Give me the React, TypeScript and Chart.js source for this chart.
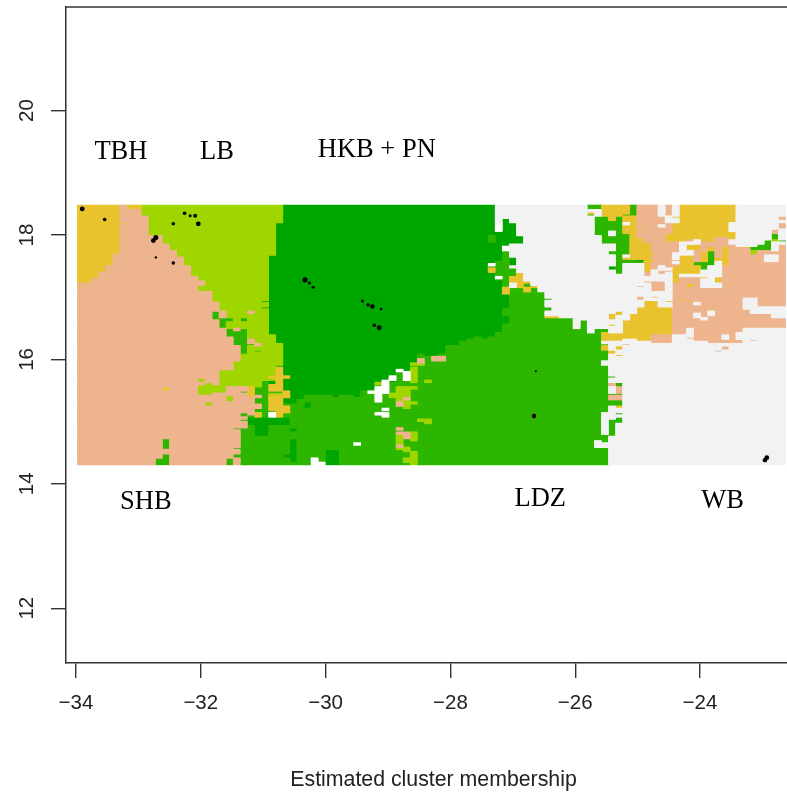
import React, { useEffect, useRef } from "react";
import { Chart, registerables } from "chart.js";

Chart.register(...registerables);

// ---- axes ----
const xTickValues = [-34, -32, -30, -28, -26, -24];
const yTickValues = [12, 14, 16, 18, 20];
const xLimits = [-34.16, -22.606];
const yLimits = [11.119, 21.666];

// ---- raster grid (longitude / latitude of the cells) ----
const gridCols = 100;
const gridRows = 120;
const gridLonStart = -33.976;
const gridLonStep = 0.11346;
const gridLatStart = 18.4775;
const gridLatStep = 0.03473;

// ---- cluster palette ----
const clusterColors: Record<string, string> = {
  W: "#F2F2F2",
  X: "#FFFFFF",
  L: "#A0D600",
  P: "#EDB48E",
  Y: "#E8C32E",
  M: "#2DB600",
  G: "#00A600",
};

type Patch = [string, number, number, number, number]; // cluster, col from, col to, row from, row to

const westPatches: Patch[] = [
  ["L", 9, 30, 0, 88],
  ["P", 0, 9, 0, 5], ["P", 0, 10, 5, 14], ["P", 0, 12, 14, 18], ["P", 0, 13, 18, 21],
  ["P", 0, 14, 21, 24], ["P", 0, 15, 24, 28], ["P", 0, 16, 28, 33], ["P", 0, 17, 33, 40],
  ["P", 17, 18, 35, 37], ["P", 0, 19, 40, 45], ["P", 0, 20, 45, 57], ["P", 0, 21, 57, 60],
  ["P", 0, 22, 60, 65], ["P", 0, 23, 65, 72], ["P", 0, 22, 72, 76], ["P", 0, 20, 76, 83],
  ["P", 0, 17, 83, 88], ["P", 21, 24, 84, 88], ["P", 19, 21, 87, 88], ["P", 0, 24, 88, 103],
  ["P", 0, 23, 103, 120],
  ["Y", 0, 6, 0, 22.5], ["Y", 0, 5, 22.5, 27.6], ["Y", 0, 4, 27.6, 31], ["Y", 0, 3, 31, 34],
  ["Y", 0, 2, 34, 36], ["Y", 0, 1, 37, 38], ["Y", 7, 9, 0, 2], ["Y", 6, 7, 7.5, 8.5],
  ["Y", 12, 13, 84, 85.5],
  ["M", 19, 20, 48.5, 52.5], ["P", 20, 21, 48.5, 52], ["M", 21, 22, 52, 53.5], ["M", 23, 24, 52, 53.5],
  ["P", 24, 25, 48.5, 50], ["G", 26, 27, 44, 45], ["G", 26, 27, 47, 48], ["M", 20, 21, 52, 57],
  ["M", 21, 24, 57, 60], ["P", 22, 23, 56.5, 57.5],
  ["M", 21, 22, 60, 61], ["M", 22, 24, 60, 65.4], ["M", 23, 24, 65.4, 69], ["P", 24, 25, 62, 64],
  ["M", 24, 25, 64, 65.4], ["P", 25, 26, 64, 65.4], ["M", 25, 26, 66.6, 68], ["P", 22, 23, 70, 71],
  ["L", 17, 18, 80, 82.4], ["L", 18, 19, 82.4, 84], ["L", 17, 19, 83, 88], ["L", 19, 21, 84, 87],
  ["L", 21, 22, 88, 91], ["L", 18, 19, 90.5, 92.7], ["M", 23, 24, 85.5, 87],
  ["M", 12, 13, 108, 113], ["M", 12, 13, 114.5, 120], ["M", 11, 13, 117, 120],
];

const northCentrePatches: Patch[] = [
  ["M", 24, 31, 88, 103], ["M", 23, 31, 103, 120],
  ["M", 31, 74, 60, 64], ["M", 31, 75, 64, 72], ["M", 31, 74, 72, 74], ["M", 31, 75, 74, 96],
  ["M", 31, 74, 96, 106], ["M", 31, 75, 106, 109], ["M", 31, 73, 109, 112], ["M", 31, 75, 112, 120],
  ["G", 29, 59, 0, 8], ["G", 28, 59, 8, 23], ["G", 27, 59, 23, 60],
  ["G", 28, 29, 60, 64], ["G", 28, 29, 74, 75],
  ["G", 29, 32, 60, 90.4], ["G", 32, 36, 60, 88], ["G", 36, 37, 60, 89], ["G", 37, 39, 60, 88],
  ["G", 39, 40, 60, 89], ["G", 40, 42, 60, 85.5], ["G", 42, 43, 60, 82.4], ["G", 43, 44, 60, 81],
  ["G", 44, 45, 60, 82], ["G", 45, 47, 60, 77], ["G", 47, 48, 60, 72.5], ["G", 48, 49, 60, 69],
  ["G", 49, 51, 60, 70.3], ["G", 51, 52, 60, 68.5], ["G", 52, 54, 60, 65.4], ["G", 54, 55, 60, 63.4],
  ["G", 55, 56, 60, 62], ["G", 56, 57, 60, 60.5], ["G", 57, 58, 60, 61.5], ["G", 58, 59, 60, 60.5],
  ["M", 58, 59, 14, 16.7],
];

const junctionPatches: Patch[] = [
  ["M", 25, 27, 84, 88], ["G", 27, 30, 85.5, 87], ["M", 26, 27, 81, 83], ["G", 27, 28, 81, 83],
  ["Y", 24, 25, 84, 89], ["P", 25, 26, 88, 89], ["P", 24, 25, 89, 97], ["M", 25, 27, 89, 92],
  ["P", 25, 26, 92, 94], ["M", 25, 27, 94, 96], ["M", 26, 27, 83, 100], ["Y", 25, 26, 96.4, 97.5],
  ["Y", 27, 29, 87.5, 95], ["Y", 29, 30, 85.8, 89], ["G", 29, 31, 89, 92.4], ["Y", 29, 30, 92.7, 96],
  ["Y", 28, 29, 95, 99.8], ["X", 27, 28, 96.4, 97.5], ["Y", 29, 30, 97.8, 99], ["Y", 27, 30, 78.8, 80],
  ["Y", 28, 29, 75, 85], ["Y", 27, 29, 83, 85.5],
  ["G", 24, 30, 98, 102.4], ["G", 25, 27, 102, 107], ["G", 30, 31, 103, 105], ["G", 30, 31, 107.5, 119.4],
  ["G", 29, 30, 114.5, 116.6], ["M", 23, 24, 96, 97.5], ["M", 23, 24, 98.6, 100], ["M", 22, 23, 102.5, 103.2],
  ["M", 22, 23, 111.7, 113], ["M", 22, 23, 115, 117], ["M", 21, 22, 116.6, 120], ["P", 22, 23, 118, 119],
];

const lowerCentrePatches: Patch[] = [
  ["X", 42, 43, 84, 90.5], ["X", 43, 44, 81, 87], ["X", 44, 45, 79, 80.5], ["X", 45, 46, 76, 77],
  ["X", 46, 47, 77, 80.7], ["X", 41, 42, 85.5, 87], ["X", 43, 44, 94.3, 95.3], ["X", 42, 43, 95.5, 96],
  ["X", 43, 44, 96.4, 97.5], ["X", 39, 40, 110, 111], ["X", 33, 34, 116.6, 120], ["X", 34, 35, 119, 120],
  ["L", 42, 43, 82.4, 83.4], ["L", 47, 48, 75, 82], ["L", 49, 50, 80.8, 82], ["L", 45, 47, 84.2, 90.5],
  ["L", 44, 45, 87.3, 89.3], ["L", 47, 48, 83.6, 84.2], ["L", 46, 47, 90.5, 94], ["L", 47, 48, 90.5, 91.5],
  ["L", 48, 50, 98.9, 99.8], ["L", 49, 50, 99.8, 101], ["L", 47, 48, 104.8, 109.4], ["L", 45, 46, 106, 111],
  ["L", 45, 46, 111.7, 113], ["L", 46, 47, 111.7, 114.3], ["L", 47, 48, 114.3, 120], ["L", 46, 47, 116.6, 119.4],
  ["L", 47, 49, 72.5, 73.6],
  ["P", 48, 49, 70.5, 72.5], ["P", 50, 52, 70.3, 71.7], ["P", 45, 46, 90.5, 92.7], ["P", 46, 47, 89.3, 90.4],
  ["P", 45, 46, 102.6, 103.2], ["P", 45, 47, 104.8, 106], ["P", 46, 47, 106, 108], ["P", 45, 46, 111, 111.7],
  ["G", 32, 33, 91, 94], ["G", 35, 37, 113, 120],
];

const riverPatches: Patch[] = [
  ["G", 60, 61, 5.7, 8.3], ["G", 60, 62, 8.3, 12.2], ["X", 59, 60, 9, 11.7], ["G", 59, 62, 12.2, 14.2],
  ["G", 59, 63, 14.2, 17.6], ["G", 59, 61, 17.6, 19], ["G", 59, 60, 19, 41], ["X", 60, 61, 19, 21],
  ["M", 60, 61, 21, 37], ["M", 59, 60, 26, 28.5], ["X", 58, 59, 27, 28], ["Y", 58, 59, 29, 31],
  ["M", 59, 61, 29, 32.5], ["X", 59, 60, 32.5, 33.5], ["G", 61, 62, 24, 28], ["M", 61, 62, 29, 33],
  ["M", 60, 61, 33, 38], ["Y", 61, 63, 33, 36], ["Y", 62, 63, 31, 32.5], ["Y", 62, 63, 36, 38],
  ["M", 63, 64, 36, 38],
  ["M", 61, 65, 38, 40.3], ["M", 61, 66, 40.3, 43], ["M", 61, 67, 43, 44.3], ["M", 61, 66, 44.3, 46.6],
  ["M", 61, 67, 46.6, 48], ["M", 60, 67, 48, 48.5], ["M", 60, 66, 48.5, 51.2], ["M", 61, 66, 51.2, 52],
  ["M", 61, 70, 52, 54.6], ["M", 60, 70, 54.6, 56.5], ["M", 71, 72, 53.4, 56.5], ["M", 60, 72, 56.5, 58.5],
  ["M", 73, 75, 56.5, 58.5], ["M", 59, 74, 58.5, 60],
  ["G", 59, 61, 39, 48], ["G", 59, 60, 48, 58.5], ["G", 60, 61, 51.2, 54.6],
  ["Y", 60, 61, 38, 41], ["Y", 63, 64, 35, 36], ["Y", 63, 64, 38, 39.5], ["Y", 64, 65, 37, 38],
  ["Y", 66, 68, 51, 52],
];

const eastPeachPatches: Patch[] = [
  ["P", 91, 100, 17.5, 36], ["P", 84, 100, 36, 60], ["P", 88, 91, 36, 38],
  ["W", 88, 91, 36, 38], ["P", 88, 100, 38, 60],
  ["P", 99, 100, 17, 60], ["P", 97, 98, 14.5, 15.7], ["P", 98, 99, 10.6, 12.7],
  ["P", 99, 100, 8.3, 11], ["P", 99, 100, 5, 7],
  ["W", 93, 97, 17.5, 19], ["W", 96, 100, 15, 17.5], ["W", 98, 99, 17.6, 20.7], ["W", 97, 99, 23, 25.5],
  ["W", 94, 96, 42.7, 47.7], ["W", 95, 98, 47, 50], ["W", 98, 100, 47, 52], ["W", 87, 88, 45, 46.3],
  ["W", 87, 88, 50, 51.5], ["W", 88, 89, 51.5, 53], ["W", 89, 90, 48.8, 51.2], ["Y", 89, 90, 48, 48.8],
  ["Y", 85, 86, 42.7, 44.3], ["Y", 86, 87, 44.3, 45], ["W", 86, 87, 57, 60], ["W", 94, 100, 57, 60],
  ["W", 93, 94, 58.5, 60],
  ["Y", 94, 95, 19, 20], ["M", 95, 96, 19, 20.5], ["M", 96, 97, 17.5, 20.7], ["M", 97, 98, 15.7, 20.7],
  ["M", 98, 99, 13, 15.7], ["L", 98, 99, 15.7, 17], ["M", 99, 100, 15.7, 17], ["L", 95, 96, 21, 22.5],
];

const northEastPatches: Patch[] = [
  ["M", 72, 74, 0, 2], ["Y", 74, 78, 0, 5], ["M", 78, 79, 0, 4.5], ["Y", 72, 73, 3, 4], ["M", 72, 73, 3.5, 5],
  ["M", 77, 78, 4, 5.5], ["M", 73, 75, 5, 14], ["M", 75, 77, 7, 14], ["Y", 75, 76, 5, 7], ["M", 76, 77, 5, 7],
  ["W", 75, 76, 12, 14], ["M", 74, 78, 14, 17.5], ["M", 76, 78, 12, 14], ["M", 76, 78, 17.5, 21],
  ["M", 75, 78, 21, 23], ["M", 76, 77, 23, 25], ["Y", 77, 78, 23.5, 25],
  ["P", 79, 82, 0, 4.5], ["P", 83, 84, 0, 4.5], ["P", 79, 83, 4.5, 17], ["P", 83, 84, 7.6, 13],
  ["Y", 84, 85, 5, 6], ["W", 82, 83, 9, 10.4],
  ["Y", 78, 79, 4.5, 15], ["Y", 77, 78, 5, 8], ["Y", 77, 78, 9, 13], ["Y", 79, 80, 11, 12],
  ["Y", 78, 80, 15, 17], ["Y", 78, 81, 17, 25.5], ["Y", 80, 81, 25.5, 31.5],
  ["M", 76, 80, 25, 27], ["G", 79, 80, 25, 26], ["M", 76, 77, 27, 32], ["M", 75, 77, 28, 30], ["G", 75, 76, 28, 30],
  ["Y", 85, 93, 0, 8], ["Y", 84, 92, 8, 13], ["W", 92, 93, 8, 12], ["Y", 92, 93, 12, 16], ["Y", 83, 92, 13, 17.3],
  ["P", 81, 84, 17, 29], ["Y", 81, 82, 21.5, 22.5], ["Y", 81, 82, 25, 26], ["W", 82, 83, 28, 29],
  ["P", 82, 83, 29.6, 32], ["P", 81, 82, 29, 30],
  ["P", 84, 85, 17, 21.5], ["W", 84, 85, 21.5, 24.5], ["P", 84, 85, 24.5, 28], ["W", 84, 85, 26, 27],
  ["W", 85, 86, 17.3, 22.5], ["Y", 85, 88, 22.5, 32], ["Y", 84, 85, 28, 36], ["P", 85, 88, 32.5, 36],
  ["Y", 86, 87, 36, 38], ["Y", 88, 89, 33, 34],
  ["Y", 86, 92, 17.6, 21], ["P", 88, 89, 19, 21], ["P", 88, 90, 17, 19], ["P", 90, 92, 14.5, 25],
  ["Y", 91, 92, 19, 28], ["Y", 90, 91, 24, 25.5], ["P", 86, 87, 15.7, 17.3], ["W", 87, 88, 15.7, 17.3],
  ["Y", 88, 89, 21, 26], ["P", 87, 88, 21, 26], ["M", 89, 90, 21, 27], ["M", 87, 90, 26, 28], ["M", 88, 89, 28, 29.6],
  ["Y", 90, 91, 33, 36], ["P", 83, 84, 29.6, 30],
];

const southEastPatches: Patch[] = [
  ["P", 79, 80, 41.5, 44.3], ["P", 81, 82, 41.5, 43], ["P", 80, 83, 34.6, 36], ["P", 81, 83, 36, 40],
  ["P", 79, 80, 36.6, 38], ["P", 80, 81, 31, 33],
  ["Y", 80, 82, 44.3, 47], ["Y", 79, 84, 47, 60], ["Y", 78, 84, 50, 60], ["Y", 77, 78, 53, 60],
  ["Y", 74, 84, 58.5, 60], ["Y", 75, 76, 50, 53.4], ["Y", 76, 77, 48.5, 51.2], ["W", 76, 77, 51.2, 53.4],
  ["Y", 75, 76, 54.6, 55.4], ["Y", 83, 84, 44.3, 45],
  ["Y", 74, 77, 60, 63.4], ["Y", 77, 79, 60, 62], ["Y", 79, 81, 60, 63], ["Y", 74, 75, 65.4, 66.6],
  ["Y", 75, 76, 67, 69], ["Y", 76, 77, 65.4, 66.6], ["Y", 76, 77, 69, 70], ["P", 77, 78, 64, 65.4],
  ["P", 81, 84, 60, 64], ["P", 86, 87, 60.5, 62], ["P", 87, 91, 60, 63.4], ["P", 89, 94, 62, 64],
  ["P", 92, 93, 60, 62], ["P", 95, 96, 62, 63], ["P", 91, 92, 65.4, 66.6], ["P", 90, 91, 66.6, 68],
  ["M", 75, 76, 79, 80], ["P", 75, 76, 82, 84], ["M", 76, 77, 82, 83.5], ["P", 76, 77, 84, 87],
  ["M", 75, 77, 87, 88], ["P", 75, 77, 88, 90.4], ["M", 75, 77, 90.4, 92.7], ["Y", 76, 77, 92.7, 94],
  ["M", 75, 76, 99.4, 107], ["M", 76, 77, 97.8, 101], ["M", 76, 77, 95.5, 96], ["M", 74, 75, 109, 110],
];

// ---- small black specks (lon, lat) ----
const speckLon = [-33.9, -33.54, -32.26, -32.17, -32.09, -32.44, -32.04, -32.72, -32.76, -32.44, -32.72, -30.33, -30.26, -30.2, -29.41, -29.32, -29.25, -29.11, -29.22, -29.14, -26.63, -26.66, -22.93, -22.96];
const speckLat = [18.42, 18.25, 18.35, 18.31, 18.31, 18.18, 18.18, 17.96, 17.91, 17.55, 17.64, 17.28, 17.23, 17.16, 16.94, 16.88, 16.85, 16.81, 16.55, 16.51, 15.81, 15.09, 14.42, 14.38];
const speckSize = [2.4, 1.8, 1.8, 1.5, 2, 1.8, 2.4, 2.5, 2.4, 1.8, 1.2, 2.6, 1.5, 1.5, 1.5, 1.8, 2.3, 1.3, 1.8, 2.4, 1, 2.2, 2.4, 2.2];

// ---- annotations ----
const regionNames = ["TBH", "LB", "HKB + PN", "SHB", "LDZ", "WB"];
const regionLon = [-33.28, -31.74, -29.18, -32.88, -26.56, -23.64];
const regionLat = [19.34, 19.34, 19.37, 13.71, 13.76, 13.73];
const xTitle = "Estimated cluster membership";

const frameColor = "#333333";

function buildCells() {
  const grid: string[][] = [];
  for (let r = 0; r < gridRows; r++) grid.push(new Array(gridCols).fill("W"));
  const all = [
    ...westPatches, ...northCentrePatches, ...junctionPatches, ...lowerCentrePatches,
    ...riverPatches, ...eastPeachPatches, ...northEastPatches, ...southEastPatches,
  ];
  for (const [k, c0, c1, r0, r1] of all) {
    const a = Math.max(0, Math.round(r0));
    const b = Math.max(a + 1, Math.round(r1));
    for (let r = a; r < b && r < gridRows; r++) {
      for (let c = c0; c < c1 && c < gridCols; c++) grid[r][c] = k;
    }
  }
  const byCluster: Record<string, { x: [number, number]; y: number }[]> = {};
  Object.keys(clusterColors).forEach((k) => (byCluster[k] = []));
  for (let r = 0; r < gridRows; r++) {
    let c = 0;
    while (c < gridCols) {
      let e = c;
      while (e < gridCols && grid[r][e] === grid[r][c]) e++;
      byCluster[grid[r][c]].push({
        x: [gridLonStart + c * gridLonStep, gridLonStart + e * gridLonStep],
        y: gridLatStart - (r + 0.5) * gridLatStep,
      });
      c = e;
    }
  }
  return byCluster;
}

export default function App() {
  const ref = useRef<HTMLCanvasElement>(null);
  useEffect(() => {
    const cells = buildCells();
    const order = ["W", "X", "P", "Y", "L", "M", "G"];
    const datasets: any[] = order.map((k) => ({
      type: "bar",
      indexAxis: "y",
      grouped: false,
      barThickness: 2.8,
      backgroundColor: clusterColors[k],
      borderWidth: 0,
      data: cells[k],
      order: 2,
    }));
    datasets.push({
      type: "scatter",
      data: speckLon.map((x, i) => ({ x, y: speckLat[i] })),
      backgroundColor: "#000000",
      borderWidth: 0,
      pointRadius: speckSize,
      order: 1,
    });
    const annot = {
      id: "annot",
      afterLayout(chart: any) {
        // the frame runs off the right edge of the picture
        const { chartArea, scales } = chart;
        chartArea.right = chart.width;
        chartArea.width = chartArea.right - chartArea.left;
        scales.x.right = chart.width;
        scales.x.width = chartArea.width;
        scales.x.configure();
      },
      afterDraw(chart: any) {
        const { ctx, chartArea, scales } = chart;
        ctx.save();
        ctx.strokeStyle = frameColor;
        ctx.lineWidth = 1.5;
        ctx.beginPath();
        ctx.moveTo(chartArea.left, chartArea.top);
        ctx.lineTo(chartArea.right, chartArea.top);
        ctx.stroke();
        ctx.textAlign = "center";
        ctx.textBaseline = "middle";
        ctx.fillStyle = "#000";
        ctx.font = '26.5px "Liberation Serif"';
        regionNames.forEach((t, i) => {
          ctx.fillText(t, scales.x.getPixelForValue(regionLon[i]), scales.y.getPixelForValue(regionLat[i]));
        });
        ctx.fillStyle = "#222";
        ctx.font = '21.3px "Liberation Sans"';
        ctx.fillText(xTitle, scales.x.getPixelForValue(-28.27), 780);
        ctx.font = '20.5px "Liberation Sans"';
        yTickValues.forEach((v) => {
          ctx.save();
          ctx.translate(27, scales.y.getPixelForValue(v));
          ctx.rotate(-Math.PI / 2);
          ctx.fillText(String(v), 0, 0);
          ctx.restore();
        });
        ctx.restore();
      },
    };
    const tickFont = { family: "Liberation Sans", size: 20.5 };
    const chart = new Chart(ref.current!, {
      data: { datasets },
      plugins: [annot],
      options: {
        responsive: false,
        animation: false,
        layout: { padding: { top: 7, left: 0, right: 0, bottom: 0 } },
        plugins: { legend: { display: false }, tooltip: { enabled: false }, title: { display: false } },
        scales: {
          x: {
            type: "linear",
            offset: false,
            min: xLimits[0],
            max: xLimits[1],
            afterFit: (s: any) => { s.height = 130; },
            afterBuildTicks: (s: any) => { s.ticks = xTickValues.map((value) => ({ value })); },
            grid: { display: true, offset: false, drawOnChartArea: false, drawTicks: true, tickLength: 15, color: frameColor, lineWidth: 1.4 },
            border: { display: true, color: frameColor, width: 1.5 },
            ticks: {
              font: tickFont, color: "#222", padding: 13, maxRotation: 0, autoSkip: false,
              callback: (v: any) => "\u2212" + Math.abs(v),
            },
          },
          y: {
            type: "linear",
            offset: false,
            min: yLimits[0],
            max: yLimits[1],
            afterFit: (s: any) => { s.width = 66; },
            afterBuildTicks: (s: any) => { s.ticks = yTickValues.map((value) => ({ value })); },
            grid: { display: true, offset: false, drawOnChartArea: false, drawTicks: true, tickLength: 15, color: frameColor, lineWidth: 1.4 },
            border: { display: true, color: frameColor, width: 1.5 },
            ticks: { display: false },
          },
        },
      } as any,
    });
    return () => chart.destroy();
  }, []);
  return (
    <div style={{ position: "absolute", left: 0, top: 0, width: 787, height: 793, background: "#fff" }}>
      <canvas ref={ref} width={787} height={793} style={{ display: "block" }} />
    </div>
  );
}
